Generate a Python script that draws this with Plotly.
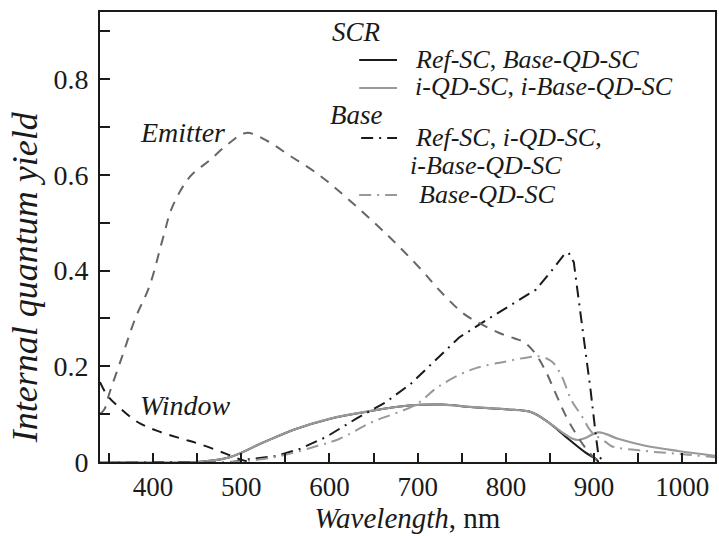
import plotly.graph_objects as go

# ---- data ----
wl_emitter = [340, 345, 350, 365, 380, 396, 411, 422, 442, 464, 487, 506, 530, 555, 588, 622,
              668, 705, 724, 752, 770, 792, 810, 821, 834, 845, 856, 867, 879, 890, 902, 910]
emitter = [0.10, 0.11, 0.14, 0.22, 0.30, 0.367, 0.465, 0.533, 0.596, 0.63, 0.667, 0.6875, 0.67, 0.64,
           0.60, 0.548, 0.47, 0.40, 0.36, 0.31, 0.29, 0.27, 0.258, 0.25, 0.225, 0.19, 0.145, 0.10,
           0.06, 0.03, 0.006, 0.0]

wl_window = [340, 348, 360, 383, 405, 430, 453, 483, 498, 510]
window = [0.167, 0.14, 0.117, 0.083, 0.065, 0.05, 0.0375, 0.017, 0.006, 0.0]

wl_base_ref = [340, 490, 509, 540, 566, 596, 630, 664, 692, 724, 747, 781, 811, 834, 852, 866,
               871, 877, 882, 890, 896, 902, 905, 912]
base_ref = [0.0, 0.0, 0.006, 0.0125, 0.027, 0.052, 0.09, 0.125, 0.163, 0.22, 0.26, 0.30, 0.333,
            0.36, 0.40, 0.433, 0.4375, 0.417, 0.346, 0.24, 0.15, 0.055, 0.012, 0.0]

wl_base_qd = [340, 480, 520, 550, 585, 611, 648, 698, 724, 761, 800, 826, 837, 852, 863, 874,
              886, 897, 913, 920, 958, 995, 1037]
base_qd = [0.0, 0.0, 0.005, 0.015, 0.033, 0.048, 0.083, 0.12, 0.158, 0.193, 0.21, 0.219, 0.221,
           0.21, 0.18, 0.13, 0.096, 0.063, 0.042, 0.033, 0.023, 0.017, 0.01]

wl_scr_ref = [340, 450, 487, 524, 562, 600, 645, 690, 728, 760, 800, 829, 848, 867, 890, 902, 905]
scr_ref = [0.0, 0.0, 0.01, 0.04, 0.069, 0.09, 0.106, 0.118, 0.12, 0.115, 0.11, 0.104, 0.083,
           0.054, 0.02, 0.006, 0.0]

wl_scr_iqd = [340, 450, 487, 524, 562, 600, 645, 690, 728, 760, 800, 829, 848, 867, 875, 882,
              890, 905, 928, 958, 995, 1037]
scr_iqd = [0.0, 0.0, 0.01, 0.04, 0.069, 0.09, 0.106, 0.118, 0.12, 0.115, 0.11, 0.104, 0.083,
           0.058, 0.049, 0.046, 0.05, 0.062, 0.048, 0.034, 0.023, 0.013]

x_ticks = [400, 500, 600, 700, 800, 900, 1000]
y_ticks = [0, 0.2, 0.4, 0.6, 0.8]
y_tick_text = ["0", "0.2", "0.4", "0.6", "0.8"]

legend_heads = ["<i>SCR</i>", "<i>Base</i>"]
legend_labels = [
    "<i>Ref</i>-<i>SC</i>, <i>Base</i>-<i>QD</i>-<i>SC</i>",
    "<i>i</i>-<i>QD</i>-<i>SC</i>, <i>i</i>-<i>Base</i>-<i>QD</i>-<i>SC</i>",
    "<i>Ref</i>-<i>SC</i>, <i>i</i>-<i>QD</i>-<i>SC</i>,",
    "<i>Base</i>-<i>QD</i>-<i>SC</i>",
]
legend_label_extra = "<i>i</i>-<i>Base</i>-<i>QD</i>-<i>SC</i>"

FONT = "Liberation Serif"
BLACK = "#1a1a1a"
GRAY = "#999999"
DGRAY = "#666666"
DASHDOT = "12px,6px,2px,6px"
DASH = "10px,8px"

# plot-area geometry (pixels) used only to place the hand-made legend and titles
L, R, T, B = 100, 717, 12, 462


def px(xp):
    return (xp - L) / (R - L)


def py(yp):
    return (B - yp) / (B - T)


fig = go.Figure()

styles = [
    dict(color=BLACK, width=2),
    dict(color=GRAY, width=2.2),
    dict(color=BLACK, width=2, dash=DASHDOT),
    dict(color=GRAY, width=2, dash=DASHDOT),
]

fig.add_trace(go.Scatter(x=wl_scr_ref, y=scr_ref, mode="lines", line=styles[0],
                         line_shape="spline", name="SCR Ref-SC, Base-QD-SC", showlegend=False))
fig.add_trace(go.Scatter(x=wl_scr_iqd, y=scr_iqd, mode="lines", line=styles[1],
                         line_shape="spline", name="SCR i-QD-SC, i-Base-QD-SC", showlegend=False))
fig.add_trace(go.Scatter(x=wl_base_ref, y=base_ref, mode="lines", line=styles[2],
                         name="Base Ref-SC, i-QD-SC, i-Base-QD-SC", showlegend=False))
fig.add_trace(go.Scatter(x=wl_base_qd, y=base_qd, mode="lines", line=styles[3],
                         line_shape="spline", name="Base Base-QD-SC", showlegend=False))
fig.add_trace(go.Scatter(x=wl_emitter, y=emitter, mode="lines",
                         line=dict(color=DGRAY, width=2, dash=DASH),
                         line_shape="spline", name="Emitter", showlegend=False))
fig.add_trace(go.Scatter(x=wl_window, y=window, mode="lines",
                         line=dict(color=BLACK, width=2, dash=DASH),
                         line_shape="spline", name="Window", showlegend=False))

fig.add_annotation(x=434, y=0.6875, text="<i>Emitter</i>", showarrow=False,
                   font=dict(family=FONT, size=28, color=BLACK))
fig.add_annotation(x=437, y=0.117, text="<i>Window</i>", showarrow=False,
                   font=dict(family=FONT, size=28, color=BLACK))

# y-axis title (placed as in the reference, slightly below the plot centre)
fig.add_annotation(xref="paper", yref="paper", x=px(25), y=py(277), text="<i>Internal quantum yield</i>",
                   textangle=-90, showarrow=False, xanchor="center", yanchor="middle",
                   font=dict(family=FONT, size=36, color=BLACK))

# ---- hand-made legend ----
LFS = 26
head_pos = [(331, 32), (329, 115)]
for txt, (hx, hy) in zip(legend_heads, head_pos):
    fig.add_annotation(xref="paper", yref="paper", x=px(hx), y=py(hy), text=txt, showarrow=False,
                       xanchor="left", yanchor="middle", font=dict(family=FONT, size=LFS + 1, color=BLACK))

item_y = [59, 87, 137, 194]
sample_x = [(360, 398), (360, 398), (362, 398), (360, 398)]
text_x = [414, 414, 414, 418]
for st, yy, (sx0, sx1), tx, lab in zip(styles, item_y, sample_x, text_x, legend_labels):
    fig.add_shape(type="line", xref="paper", yref="paper", x0=px(sx0), x1=px(sx1), y0=py(yy + 1),
                  y1=py(yy + 1), line=st)
    fig.add_annotation(xref="paper", yref="paper", x=px(tx), y=py(yy), text=lab, showarrow=False,
                       xanchor="left", yanchor="middle", font=dict(family=FONT, size=LFS, color=BLACK))
fig.add_annotation(xref="paper", yref="paper", x=px(409), y=py(165), text=legend_label_extra,
                   showarrow=False, xanchor="left", yanchor="middle",
                   font=dict(family=FONT, size=LFS, color=BLACK))

fig.update_layout(
    width=719, height=536,
    margin=dict(l=L, r=719 - R, t=T, b=536 - B),
    paper_bgcolor="white", plot_bgcolor="white",
    font=dict(family=FONT, size=27, color=BLACK),
    showlegend=False,
    xaxis=dict(range=[340, 1037], tickvals=x_ticks, ticks="inside", ticklen=9, tickwidth=2,
               tickcolor=BLACK, showline=True, linecolor=BLACK, linewidth=2, mirror=True,
               showgrid=False, zeroline=False, tickfont=dict(size=27),
               minor=dict(dtick=50, tick0=400, ticks="inside", ticklen=9, tickwidth=2, tickcolor=BLACK),
               title=dict(text="<i>Wavelength</i>, nm", font=dict(size=29), standoff=4)),
    yaxis=dict(range=[0, 0.94], tickvals=y_ticks, ticktext=y_tick_text, ticks="inside", ticklen=10,
               tickwidth=2, tickcolor=BLACK, showline=True, linecolor=BLACK, linewidth=2, mirror=True,
               showgrid=False, zeroline=False, tickfont=dict(size=28), ticklabelstandoff=4,
               minor=dict(dtick=0.1, tick0=0, ticks="inside", ticklen=10, tickwidth=2, tickcolor=BLACK)),
)

fig.write_html("out.html", config={"displayModeBar": False},
               post_script="document.body.style.margin='0';")
